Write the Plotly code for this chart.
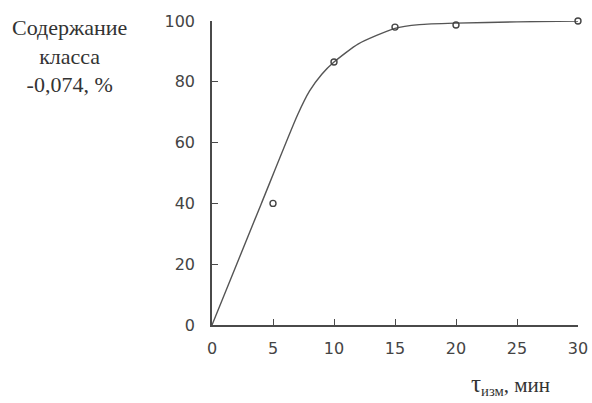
import plotly.graph_objects as go

# Measured points: grinding time (min) vs. content of -0.074 mm class (%)
time_min = [5, 10, 15, 20, 30]
content_pct = [40, 86.5, 98, 98.7, 100]

# Smoothed trend curve through the measurements
curve_t = [0, 4, 7, 8, 9, 10, 12, 15, 17, 20, 25, 30]
curve_y = [0, 39.5, 69, 77, 82.5, 86.5, 92.5, 97.6, 98.8, 99.3, 99.7, 100]

x_ticks = [0, 5, 10, 15, 20, 25, 30]
y_ticks = [0, 20, 40, 60, 80, 100]

ink = "#4a4a4a"
tick_font = dict(family="DejaVu Sans", size=16, color="#444444")
serif = "Liberation Serif"

fig = go.Figure()
fig.add_trace(go.Scatter(
    x=curve_t, y=curve_y, mode="lines",
    line=dict(color="#555555", width=1.4, shape="spline", smoothing=0.6),
    hoverinfo="skip", showlegend=False,
))
fig.add_trace(go.Scatter(
    x=time_min, y=content_pct, mode="markers",
    marker=dict(symbol="circle-open", size=6, color="#444444", line=dict(width=1.4)),
    cliponaxis=False, showlegend=False,
))

fig.update_layout(
    width=592, height=403,
    margin=dict(l=212, r=14, t=21, b=78),
    paper_bgcolor="white", plot_bgcolor="white",
    xaxis=dict(
        range=[0, 30], tickvals=x_ticks, ticks="inside", ticklen=6,
        tickcolor=ink, showline=True, linecolor=ink, linewidth=1.5,
        showgrid=False, zeroline=False, tickfont=tick_font,
        ticklabelstandoff=8, automargin=False,
    ),
    yaxis=dict(
        range=[0, 100], tickvals=y_ticks, ticks="inside", ticklen=6,
        tickcolor=ink, showline=True, linecolor=ink, linewidth=1.5,
        showgrid=False, zeroline=False, tickfont=tick_font,
        ticklabelstandoff=12, automargin=False,
    ),
    annotations=[
        dict(
            text="Содержание<br>класса<br>-0,074, %",
            xref="paper", yref="paper", x=-0.39, y=1.025,
            xanchor="center", yanchor="top", showarrow=False, align="center",
            font=dict(family=serif, size=22, color="#333333"),
        ),
        dict(
            text="<span style='font-size:25px'>τ</span><sub>изм</sub>, мин",
            xref="paper", yref="paper", x=0.815, y=-0.195,
            xanchor="center", yanchor="middle", showarrow=False,
            font=dict(family=serif, size=21, color="#333333"),
        ),
    ],
)

fig.write_html("out.html")
